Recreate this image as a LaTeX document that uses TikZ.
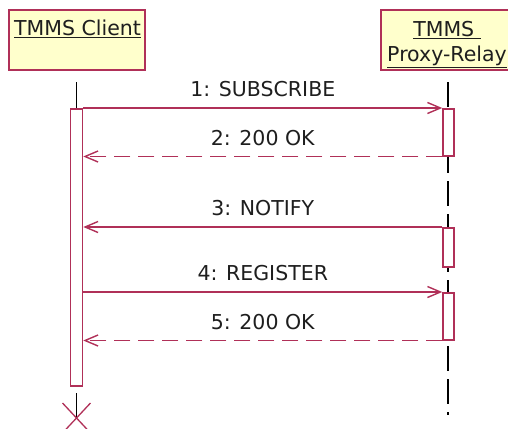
\documentclass[tikz,border=0pt]{standalone}
\usepackage{fontspec}
\setmainfont{DejaVu Sans}
\usetikzlibrary{arrows.meta,positioning,calc}
\definecolor{umlred}{RGB}{176,48,88}
\definecolor{umlfill}{RGB}{255,255,204}
\definecolor{umltext}{RGB}{30,30,30}

\begin{document}
\begin{tikzpicture}[
  x=1pt, y=-1pt,
  font=\fontsize{20.5}{25}\selectfont,
  >={Straight Barb[length=13pt,width=11pt]},
  actor/.style={draw=umlred, line width=1.6pt, fill=umlfill, inner sep=0pt},
  actbar/.style={draw=umlred, line width=1.5pt, fill=white, inner sep=0pt, anchor=north},
  life/.style={black, line width=1.3pt},
  msg/.style={->, umlred, line width=1.4pt},
  reply/.style={msg, dash pattern=on 16pt off 8pt},
  lbl/.style={anchor=base, inner sep=0pt, yshift=11.5pt, text=umltext},
]
\useasboundingbox (0,0) rectangle (508,428);

% ---- the two participants ------------------------------------------------
\node[actor, minimum width=136pt, minimum height=60pt] (client) at (77,40) {};
\node[actor, minimum width=150pt, minimum height=60pt] (proxy)  at (456,40) {};
\node[anchor=base west, inner sep=0pt, text=umltext] (clientname) at (14,36) {\underline{TMMS Client}};
\node[anchor=base, inner sep=0pt, text=umltext] (proxyname1) at (447,37) {\underline{TMMS\ }};
\node[anchor=base, inner sep=0pt, text=umltext] (proxyname2) at (447,62) {\underline{Proxy-Relay}};

% ---- lifelines -------------------------------------------------------------
\coordinate (ctop)  at (76.5,82);
\coordinate (cgap)  at (76.5,393);
\coordinate (cend)  at (76.5,418);
\coordinate (ptop)  at (448,82);
\coordinate (pend)  at (448,415);
\draw[life, dash pattern=on 25pt off 8pt] (ptop) -- (pend);

% ---- activation bars ------------------------------------------------------
\node[actbar, minimum width=12pt, minimum height=277pt] (cbar)  at (76.5,108) {};
\node[actbar, minimum width=11pt, minimum height=47pt]  (pbar1) at (448.5,108) {};
\node[actbar, minimum width=11pt, minimum height=39pt]  (pbar2) at (448.5,227) {};
\node[actbar, minimum width=11pt, minimum height=47pt]  (pbar3) at (448.5,292) {};

\draw[life] (ctop) -- (cbar.north);
\draw[life] (cgap) -- (cend);
% destruction of the client
\draw[umlred, line width=1.3pt] (cend) +(-14,-15) -- +(14,15) (cend) +(-14,15) -- +(14,-15);

% ---- messages ---------------------------------------------------------------
\draw[msg]   (cbar.east |- pbar1.north) -- node[lbl] (m1) {1: SUBSCRIBE} (pbar1.north west);
\draw[reply] (pbar1.south west) -- node[lbl] (m2) {2: 200 OK} (cbar.east |- pbar1.south);
\draw[msg]   (pbar2.north west) -- node[lbl] (m3) {3: NOTIFY} (cbar.east |- pbar2.north);
\draw[msg]   (cbar.east |- pbar3.north) -- node[lbl] (m4) {4: REGISTER} (pbar3.north west);
\draw[reply] (pbar3.south west) -- node[lbl] (m5) {5: 200 OK} (cbar.east |- pbar3.south);

\end{tikzpicture}
\end{document}
